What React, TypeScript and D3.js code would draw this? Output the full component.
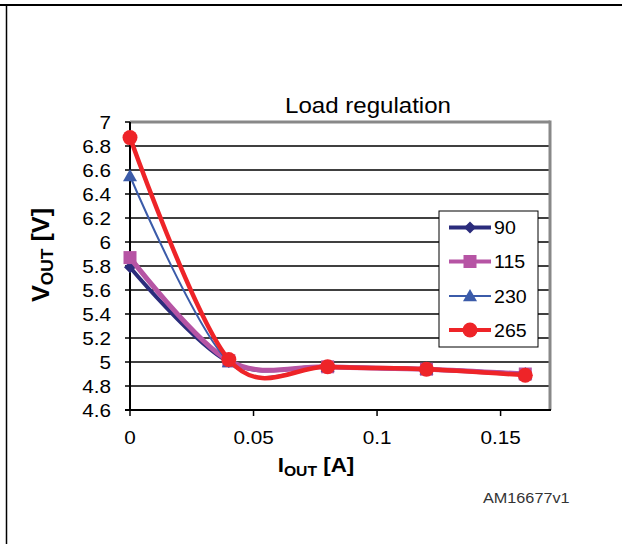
import React from "react";
import * as d3 from "d3";

const currents = [0, 0.04, 0.08, 0.12, 0.16];
const seriesNames = ["90", "115", "230", "265"];
const v90 = [5.79, 5.0, 4.96, 4.94, 4.9];
const v115 = [5.87, 5.01, 4.96, 4.94, 4.9];
const v230 = [6.55, 5.0, 4.96, 4.94, 4.9];
const v265 = [6.87, 5.02, 4.96, 4.94, 4.89];
const yTicks = [4.6, 4.8, 5, 5.2, 5.4, 5.6, 5.8, 6, 6.2, 6.4, 6.6, 6.8, 7];
const xTicks = [0, 0.05, 0.1, 0.15];
const xTickLabels = ["0", "0.05", "0.1", "0.15"];

const W = 622;
const H = 544;
const SX = 1.12;

const styles = [
  { color: "#2B2C7C", width: 4, marker: "diamond" },
  { color: "#B654A4", width: 5, marker: "square" },
  { color: "#3B5BA9", width: 2, marker: "triangle" },
  { color: "#EE2428", width: 4.5, marker: "circle" },
];

function Marker({ type, x, y, color }: { type: string; x: number; y: number; color: string }) {
  if (type === "diamond") {
    const s = 6;
    return <path d={`M${x},${y - s}L${x + s},${y}L${x},${y + s}L${x - s},${y}Z`} fill={color} />;
  }
  if (type === "square") {
    const s = 6.5;
    return <rect x={x - s} y={y - s} width={2 * s} height={2 * s} fill={color} />;
  }
  if (type === "triangle") {
    const s = 7;
    return <path d={`M${x},${y - s}L${x + s},${y + s * 0.75}L${x - s},${y + s * 0.75}Z`} fill={color} />;
  }
  return <circle cx={x} cy={y} r={7.5} fill={color} />;
}

function SText({ x, y, size, anchor = "start", weight = "normal", children, color = "#000" }: any) {
  return (
    <text
      transform={`translate(${x},${y}) scale(${SX},1)`}
      fontSize={size}
      textAnchor={anchor}
      fontWeight={weight}
      fill={color}
      fontFamily="'Liberation Sans', Arial, sans-serif"
    >
      {children}
    </text>
  );
}

export default function App() {
  const x = d3.scaleLinear().domain([0, 0.17]).range([130, 550]);
  const y = d3.scaleLinear().domain([4.6, 7]).range([410, 122]);
  const all = [v90, v115, v230, v265];
  const line = d3
    .line<number>()
    .x((_, i) => x(currents[i]))
    .y((d) => y(d))
    .curve(d3.curveCardinal.tension(0));

  const legX = 439;
  const legY = 211;
  const legRows = [227.5, 261.5, 296, 330];

  return (
    <svg width={W} height={H} style={{ position: "absolute", left: 0, top: 0, background: "#fff" }}>
      <rect x={0} y={0} width={W} height={H} fill="#fff" />
      {/* frame */}
      <line x1={0} x2={W} y1={5} y2={5} stroke="#000" strokeWidth={2} />
      <line x1={6.5} x2={6.5} y1={5} y2={H} stroke="#000" strokeWidth={1.5} />

      {/* title */}
      <SText x={368} y={113} size={21.5} anchor="middle">Load regulation</SText>

      {/* gridlines */}
      {yTicks.filter((t) => t > 4.6 && t < 7).map((t) => (
        <line key={t} x1={x(0)} x2={x(0.17)} y1={y(t)} y2={y(t)} stroke="#000" strokeWidth={1.3} />
      ))}
      <line x1={x(0)} x2={x(0.17)} y1={y(7)} y2={y(7)} stroke="#888" strokeWidth={3} />
      <line x1={x(0.17)} x2={x(0.17)} y1={y(7) - 1.5} y2={y(4.6)} stroke="#888" strokeWidth={3} />

      {/* axes */}
      <line x1={x(0)} x2={x(0)} y1={y(7)} y2={y(4.6) + 1} stroke="#000" strokeWidth={2} />
      <line x1={x(0) - 5} x2={x(0.17) + 1} y1={y(4.6)} y2={y(4.6)} stroke="#000" strokeWidth={2} />
      {yTicks.map((t) => (
        <g key={t}>
          <line x1={x(0) - 5} x2={x(0)} y1={y(t)} y2={y(t)} stroke="#000" strokeWidth={1.5} />
          <SText x={111} y={y(t) + 6.5} size={18.5} anchor="end">{String(t)}</SText>
        </g>
      ))}
      {xTicks.map((t, i) => (
        <g key={t}>
          <line x1={x(t)} x2={x(t)} y1={y(4.6)} y2={y(4.6) + 6} stroke="#000" strokeWidth={1.5} />
          <SText x={x(t)} y={444} size={18.5} anchor="middle">{xTickLabels[i]}</SText>
        </g>
      ))}

      {/* axis titles */}
      <text
        transform={`translate(49,255) rotate(-90) scale(1.2,1.1)`}
        fontSize={21}
        fontWeight="bold"
        textAnchor="middle"
        fontFamily="'Liberation Sans', Arial, sans-serif"
      >
        V<tspan fontSize={14.5} dy={4}>OUT</tspan>
        <tspan dy={-4}> [V]</tspan>
      </text>
      <text
        transform={`translate(316,472) scale(${SX},1)`}
        fontSize={20}
        fontWeight="bold"
        textAnchor="middle"
        fontFamily="'Liberation Sans', Arial, sans-serif"
      >
        I<tspan fontSize={14} dy={4}>OUT</tspan>
        <tspan dy={-4}> [A]</tspan>
      </text>

      {/* series */}
      {all.map((vals, si) => (
        <g key={si}>
          <path d={line(vals) || ""} fill="none" stroke={styles[si].color} strokeWidth={styles[si].width} strokeLinejoin="round" />
          {vals.map((v, i) => (
            <Marker key={i} type={styles[si].marker} x={x(currents[i])} y={y(v)} color={styles[si].color} />
          ))}
        </g>
      ))}

      {/* legend */}
      <rect x={legX} y={legY} width={99} height={136} fill="#fff" stroke="#000" strokeWidth={1} />
      {seriesNames.map((n, i) => (
        <g key={n}>
          <line x1={449} x2={491} y1={legRows[i]} y2={legRows[i]} stroke={styles[i].color} strokeWidth={Math.min(styles[i].width, 4)} />
          <Marker type={styles[i].marker} x={470} y={legRows[i]} color={styles[i].color} />
          <SText x={494} y={legRows[i] + 6.5} size={17.5}>{n}</SText>
        </g>
      ))}

      <SText x={483} y={503} size={14.5} color="#333">AM16677v1</SText>
    </svg>
  );
}
